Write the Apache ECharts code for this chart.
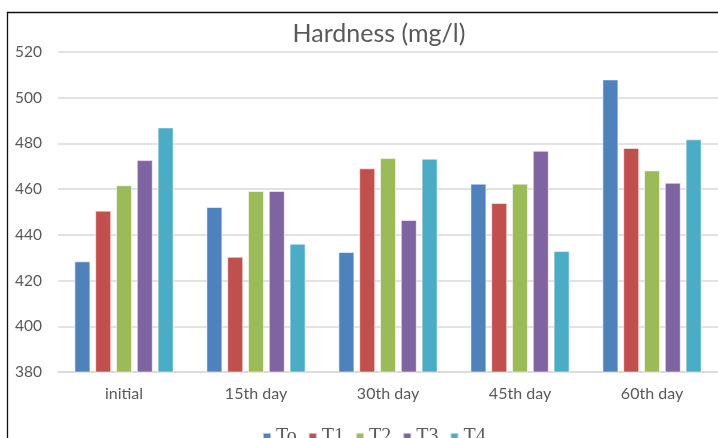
<!DOCTYPE html>
<html>
<head>
<meta charset="utf-8">
<style>
  html, body { margin: 0; padding: 0; background: #ffffff; }
  #chart { width: 718px; height: 438px; }
</style>
<script src="https://cdn.jsdelivr.net/npm/echarts@6/dist/echarts.min.js"></script>
</head>
<body>
<div id="chart"></div>
<script>
// Sampling days and treatment groups
const categories = ['initial', '15th day', '30th day', '45th day', '60th day'];
const seriesNames = ['To', 'T1', 'T2', 'T3', 'T4'];

// Hardness readings (mg/l) per treatment
const valuesTo = [428.4, 452.2, 432.5, 462.4, 508.0];
const valuesT1 = [450.6, 430.4, 469.1, 453.9, 478.0];
const valuesT2 = [461.7, 459.2, 473.6, 462.4, 468.2];
const valuesT3 = [472.7, 459.2, 446.5, 476.8, 462.8];
const valuesT4 = [487.0, 436.1, 473.3, 432.9, 481.8];

const yMin = 380, yMax = 520, yStep = 20;

const seriesValues = [valuesTo, valuesT1, valuesT2, valuesT3, valuesT4];
const colors = ['#4F81BD', '#C0504D', '#9BBB59', '#8064A2', '#4BACC6'];

const chart = echarts.init(document.getElementById('chart'), null, { renderer: 'canvas' });

chart.setOption({
  animation: false,
  backgroundColor: '#ffffff',
  color: colors,
  title: {
    text: 'Hardness (mg/l)',
    left: 374,
    textAlign: 'center',
    top: 16,
    textStyle: {
      fontFamily: 'Lato, "Open Sans", sans-serif',
      fontSize: 25,
      fontWeight: 'normal',
      color: '#595959'
    }
  },
  legend: {
    data: seriesNames,
    left: 257,
    top: 422,
    itemWidth: 8,
    itemHeight: 8,
    itemGap: 11,
    icon: 'rect',
    textStyle: {
      fontFamily: '"Liberation Serif", "DejaVu Serif", serif',
      fontSize: 20,
      color: '#595959',
      padding: 0
    }
  },
  grid: {
    left: 58,
    right: -5,
    top: 52,
    height: 320,
    containLabel: false
  },
  xAxis: {
    type: 'category',
    data: categories,
    axisTick: { show: false },
    axisLine: { lineStyle: { color: '#d9d9d9', width: 1.5 } },
    axisLabel: {
      margin: 14,
      fontFamily: 'Lato, "Open Sans", sans-serif',
      fontSize: 16,
      color: '#595959'
    }
  },
  yAxis: {
    type: 'value',
    min: yMin,
    max: yMax,
    interval: yStep,
    axisLine: { show: false },
    axisTick: { show: false },
    axisLabel: {
      margin: 16,
      fontFamily: 'Lato, "Open Sans", sans-serif',
      fontSize: 15.5,
      color: '#595959'
    },
    splitLine: { lineStyle: { color: '#d9d9d9', width: 1.5 } }
  },
  graphic: [
    {
      type: 'rect',
      shape: { x: 7.5, y: 12.5, width: 760, height: 480 },
      style: { fill: 'none', stroke: '#111111', lineWidth: 1.3 },
      z: 100
    }
  ],
  series: seriesNames.map((name, i) => ({
    name: name,
    type: 'bar',
    data: seriesValues[i],
    barWidth: 16,
    barGap: '30%',
    itemStyle: {
      color: colors[i],
      borderColor: 'rgba(255,255,255,0.55)',
      borderWidth: 1
    }
  }))
});
</script>
</body>
</html>
